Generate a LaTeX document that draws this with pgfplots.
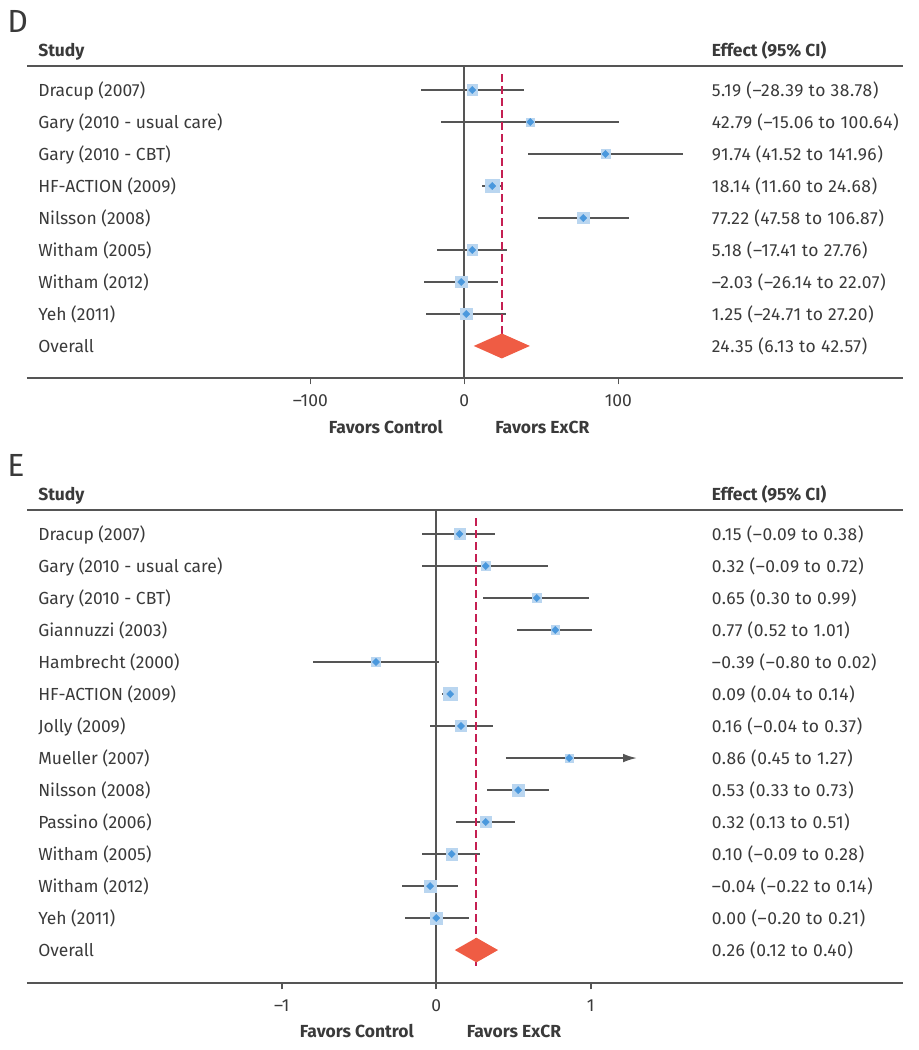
\documentclass[border=0pt]{standalone}
\usepackage{pgfplots}
\pgfplotsset{compat=1.18}
\usepackage{pgfplotstable}
\usepackage{fontspec}
\setmainfont{Fira Sans}
\usetikzlibrary{arrows.meta}
\definecolor{txt}{HTML}{3A3A3A}
\definecolor{ln}{HTML}{555555}
\definecolor{sq}{HTML}{BAD6F0}
\definecolor{dm}{HTML}{4A98DD}
\definecolor{rd}{HTML}{C51F52}
\definecolor{ov}{HTML}{EF5C44}
\newcommand{\fs}{\fontsize{13.1pt}{15pt}\selectfont}
\newcommand{\fe}{\fontsize{13.1pt}{15pt}\selectfont\addfontfeature{LetterSpace=3}}

% Panel D: mean difference
\pgfplotstableread{
row est lo hi ms
1 5.19 -28.39 38.78 4.0
2 42.79 -15.06 100.64 3.1
3 91.74 41.52 141.96 3.5
4 18.14 11.60 24.68 5.0
5 77.22 47.58 106.87 4.25
6 5.18 -17.41 27.76 4.0
7 -2.03 -26.14 22.07 4.25
8 1.25 -24.71 27.20 4.25
}\Dtab
% Panel E: standardised mean difference
\pgfplotstableread{
row est lo hi ms
1 0.15 -0.09 0.38 4.0
2 0.32 -0.09 0.72 3.5
3 0.65 0.30 0.99 3.25
4 0.77 0.52 1.01 3.25
5 -0.39 -0.80 0.02 3.4
6 0.09 0.04 0.14 5.0
7 0.16 -0.04 0.37 4.25
8 0.86 0.45 1.27 3.1
9 0.53 0.33 0.73 4.4
10 0.32 0.13 0.51 4.25
11 0.10 -0.09 0.28 4.4
12 -0.04 -0.22 0.14 4.4
13 0.00 -0.20 0.21 4.5
}\Etab

\pgfplotsset{
  forest/.style={
    scale only axis, width=657pt, anchor=north west,
    y dir=reverse, axis y line=none, axis x line*=bottom,
    x axis line style={draw=ln, line width=1.4pt, -},
    tick align=outside, major tick length=4.5pt,
    xtick style={draw=ln, line width=1.2pt},
    xticklabel style={font=\fs, text=txt, anchor=base, yshift=-16.8pt},
    clip=false,
  },
  cibars/.style={only marks, mark=none, forget plot,
    error bars/.cd, x dir=both, x explicit, error mark=none,
    error bar style={draw=ln, line width=1.5pt}},
  squares/.style={scatter, only marks, mark=square*, color=sq,
    scatter/use mapped color={draw=sq, fill=sq},
    visualization depends on={\thisrow{ms}\as\perpointmarksize},
    scatter/@pre marker code/.append style={/tikz/mark size=\perpointmarksize pt}},
  diamonds/.style={only marks, mark=square*, mark size=1.9pt, color=dm,
    mark options={rotate=45, fill=dm, draw=dm, line width=0.3pt}},
}

\begin{document}
\begin{tikzpicture}[x=0.75pt,y=-0.75pt]
\path[use as bounding box] (0,0) rectangle (918,1050);

% ---------------- Panel D ----------------
\begin{axis}[forest, at={(20.25pt,-49.5pt)}, height=234.2pt,
  xmin=-283.96, xmax=284.87, ymin=0.25, ymax=10.01,
  xtick={-100,0,100}, xticklabels={–100,0,100}]
\addplot[draw=ln, line width=1.4pt] coordinates {(0,0.25) (0,10.01)};
\addplot[cibars] table[x=est, y=row,
  x error plus expr=\thisrow{hi}-\thisrow{est},
  x error minus expr=\thisrow{est}-\thisrow{lo}] {\Dtab};
\addplot[rd, line width=1.5pt, dash pattern=on 6pt off 3pt] coordinates {(24.35,0.5) (24.35,9.5)};
\addplot[squares] table[x=est, y=row] {\Dtab};
\addplot[diamonds] table[x=est, y=row] {\Dtab};
\addplot[fill=ov, draw=none] coordinates {(6.13,9) (24.35,8.61) (42.57,9) (24.35,9.39)} -- cycle;
\end{axis}

% ---------------- Panel E ----------------
\begin{axis}[forest, at={(20.25pt,-382.5pt)}, height=355pt,
  xmin=-2.649, xmax=3.021, ymin=0.25, ymax=15.04,
  xtick={-1,0,1}, xticklabels={–1,0,1}]
\addplot[draw=ln, line width=1.4pt] coordinates {(0,0.25) (0,15.04)};
\addplot[cibars] table[x=est, y=row,
  x error plus expr=\thisrow{hi}-\thisrow{est},
  x error minus expr=\thisrow{est}-\thisrow{lo}] {\Etab};
\addplot[ln, line width=1.5pt, -{Latex[length=10.5pt,width=6.5pt]}] coordinates {(0.45,8) (1.30,8)};
\addplot[rd, line width=1.5pt, dash pattern=on 6pt off 3pt] coordinates {(0.26,0.5) (0.26,14.5)};
\addplot[squares] table[x=est, y=row] {\Etab};
\addplot[diamonds] table[x=est, y=row] {\Etab};
\addplot[fill=ov, draw=none] coordinates {(0.12,14) (0.26,13.615) (0.40,14) (0.26,14.385)} -- cycle;
\end{axis}

% top rules
\draw[ln, line width=1.4pt] (27,66) -- (903,66);
\draw[ln, line width=1.4pt] (27,510) -- (903,510);

% panel letters
\node[anchor=base west, inner sep=0pt, font=\fontsize{24pt}{26pt}\selectfont, text=txt] at (7,32.5) {D};
\node[anchor=base west, inner sep=0pt, font=\fontsize{24pt}{26pt}\selectfont, text=txt] at (7,476) {E};

% headers
\node[anchor=base west, inner sep=0pt, font=\fs\bfseries, text=txt] at (38,56.5) {Study};
\node[anchor=base west, inner sep=0pt, font=\fs\bfseries, text=txt] at (711.5,56.5) {Effect (95\% CI)};
\node[anchor=base west, inner sep=0pt, font=\fs\bfseries, text=txt] at (38,500.5) {Study};
\node[anchor=base west, inner sep=0pt, font=\fs\bfseries, text=txt] at (711.5,500.5) {Effect (95\% CI)};

% panel D rows
\foreach \yy/\nm/\ef in {
  90/Dracup (2007)/5.19 (–28.39 to 38.78),
  122/Gary (2010 - usual care)/42.79 (–15.06 to 100.64),
  154/Gary (2010 - CBT)/91.74 (41.52 to 141.96),
  186/HF-ACTION (2009)/18.14 (11.60 to 24.68),
  218/Nilsson (2008)/77.22 (47.58 to 106.87),
  250/Witham (2005)/5.18 (–17.41 to 27.76),
  282/Witham (2012)/–2.03 (–26.14 to 22.07),
  314/Yeh (2011)/1.25 (–24.71 to 27.20),
  346/Overall/24.35 (6.13 to 42.57)}{
  \node[anchor=base west, inner sep=0pt, font=\fs, text=txt] at (38,\yy+6.7) {\nm};
  \node[anchor=base west, inner sep=0pt, font=\fe, text=txt] at (711.5,\yy+6.7) {\ef};
}

% panel E rows
\foreach \yy/\nm/\ef in {
  534/Dracup (2007)/0.15 (–0.09 to 0.38),
  566/Gary (2010 - usual care)/0.32 (–0.09 to 0.72),
  598/Gary (2010 - CBT)/0.65 (0.30 to 0.99),
  630/Giannuzzi (2003)/0.77 (0.52 to 1.01),
  662/Hambrecht (2000)/–0.39 (–0.80 to 0.02),
  694/HF-ACTION (2009)/0.09 (0.04 to 0.14),
  726/Jolly (2009)/0.16 (–0.04 to 0.37),
  758/Mueller (2007)/0.86 (0.45 to 1.27),
  790/Nilsson (2008)/0.53 (0.33 to 0.73),
  822/Passino (2006)/0.32 (0.13 to 0.51),
  854/Witham (2005)/0.10 (–0.09 to 0.28),
  886/Witham (2012)/–0.04 (–0.22 to 0.14),
  918/Yeh (2011)/0.00 (–0.20 to 0.21),
  950/Overall/0.26 (0.12 to 0.40)}{
  \node[anchor=base west, inner sep=0pt, font=\fs, text=txt] at (38,\yy+6.7) {\nm};
  \node[anchor=base west, inner sep=0pt, font=\fe, text=txt] at (711.5,\yy+6.7) {\ef};
}

% favours labels
\node[anchor=base east, inner sep=0pt, font=\fs\bfseries, text=txt] at (443,433.3) {Favors Control};
\node[anchor=base west, inner sep=0pt, font=\fs\bfseries, text=txt] at (495,433.3) {Favors ExCR};
\node[anchor=base east, inner sep=0pt, font=\fs\bfseries, text=txt] at (414,1037.3) {Favors Control};
\node[anchor=base west, inner sep=0pt, font=\fs\bfseries, text=txt] at (466.7,1037.3) {Favors ExCR};
\end{tikzpicture}
\end{document}
